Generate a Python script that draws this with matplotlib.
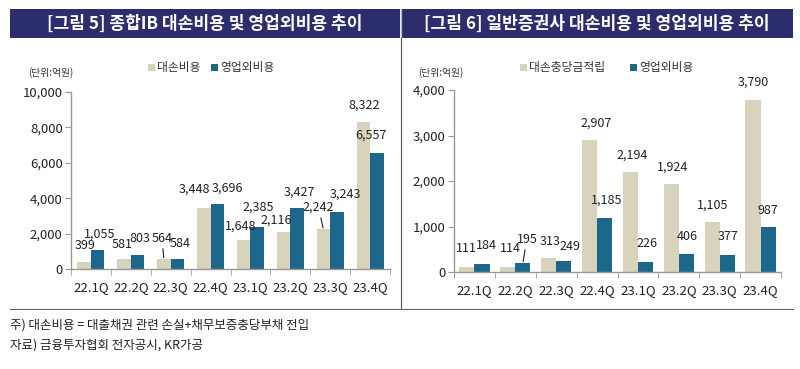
import matplotlib
matplotlib.use('Agg')
import matplotlib.pyplot as plt
from matplotlib.patches import Rectangle
from matplotlib.lines import Line2D
import numpy as np

plt.rcParams['font.family'] = ['Noto Sans CJK KR', 'DejaVu Sans']

quarters = ['22.1Q', '22.2Q', '22.3Q', '22.4Q', '23.1Q', '23.2Q', '23.3Q', '23.4Q']

# [그림 5] 종합IB
ib_loss = [399, 581, 564, 3448, 1648, 2116, 2242, 8322]
ib_nonop = [1055, 803, 584, 3696, 2385, 3427, 3243, 6557]

# [그림 6] 일반증권사
gen_provision = [111, 114, 313, 2907, 2194, 1924, 1105, 3790]
gen_nonop = [184, 195, 249, 1185, 226, 406, 377, 987]

BEIGE = '#d8d3bd'
BLUE = '#1d678b'
NAVY = '#2b2d6c'
AXIS = '#999999'

W, H = 800, 369
fig = plt.figure(figsize=(W / 100, H / 100), dpi=100)
fig.patch.set_facecolor('white')


def fx(x):
    return x / W


def fy(y):
    return 1 - y / H


# header bars
for x0, x1, title in [(10, 400, '[그림 5] 종합IB 대손비용 및 영업외비용 추이'),
                      (401, 793, '[그림 6] 일반증권사 대손비용 및 영업외비용 추이')]:
    fig.add_artist(Rectangle((fx(x0), fy(38)), fx(x1 - x0), 29 / H,
                             transform=fig.transFigure, color=NAVY, lw=0))
    fig.text(fx((x0 + x1) / 2), fy(23.5), title, color='white', fontsize=12.3,
             fontweight='bold', ha='center', va='center')
fig.add_artist(Line2D([fx(400.5)] * 2, [fy(38), fy(9)], transform=fig.transFigure,
                      color='#aab0e0', lw=1))

# frame lines
fig.add_artist(Line2D([fx(400.5)] * 2, [fy(38), fy(309)], transform=fig.transFigure,
                      color='#555555', lw=0.8))
fig.add_artist(Line2D([fx(10), fx(793)], [fy(309)] * 2, transform=fig.transFigure,
                      color='#666666', lw=0.8))


def make_panel(rect, s1, s2, ymax, ystep, width, offs1, offs2, leaders):
    ax = fig.add_axes(rect)
    x = np.arange(len(quarters))
    b1 = ax.bar(x - width / 2, s1, width, color=BEIGE)
    b2 = ax.bar(x + width / 2, s2, width, color=BLUE)
    ax.set_xlim(-0.5, len(quarters) - 0.5)
    ax.set_ylim(0, ymax)
    ax.set_yticks(np.arange(0, ymax + 1, ystep))
    ax.yaxis.set_major_formatter(matplotlib.ticker.FuncFormatter(lambda v, p: f'{v:,.0f}'))
    ax.set_xticks(x)
    ax.set_xticklabels(quarters)
    ax.set_xticks(np.arange(-0.5, len(quarters)), minor=True)
    ax.tick_params(axis='x', which='major', length=0, pad=9, labelsize=9.5, colors='#222222')
    ax.tick_params(axis='x', which='minor', length=4, direction='out', color=AXIS)
    ax.tick_params(axis='y', length=4, direction='out', color=AXIS, pad=2,
                   labelsize=9.5, labelcolor='#222222')
    for s in ['top', 'right']:
        ax.spines[s].set_visible(False)
    for s in ['left', 'bottom']:
        ax.spines[s].set_color(AXIS)
        ax.spines[s].set_linewidth(1)
    ax.set_facecolor('none')

    for bars, vals, offs in [(b1, s1, offs1), (b2, s2, offs2)]:
        for i, (bar, v) in enumerate(zip(bars, vals)):
            dx, dy = offs[i]
            cx = bar.get_x() + bar.get_width() / 2
            kw = {}
            if (bars is b1, i) in leaders:
                kw['arrowprops'] = dict(arrowstyle='-', color='#222222', lw=0.8,
                                        shrinkA=1, shrinkB=1)
            ax.annotate(f'{v:,}', xy=(cx, v), xytext=(dx, dy), textcoords='offset pixels',
                        ha='center', va='center', fontsize=9, color='#222222', **kw)
    return ax


# label offsets (pixels) from bar tops
ib_offs1 = [(1, 16), (-2, 14), (-2, 21), (-9, 19), (-3, 14), (-7, 11), (-5, 22), (1, 17)]
ib_offs2 = [(2, 16), (2, 16), (3, 15), (10, 15), (1, 20), (2, 16), (8, 17), (-6, 18)]
gen_offs1 = [(0, 18), (3, 18), (2, 16), (7, 17), (2, 17), (1, 17), (1, 17), (0, 17)]
gen_offs2 = [(4, 18), (4, 24), (6, 14), (2, 18), (1, 18), (1, 17), (1, 18), (0, 17)]

ax1 = make_panel([fx(71), 100 / H, 319 / W, 177 / H], ib_loss, ib_nonop, 10000, 2000, 0.34,
                 ib_offs1, ib_offs2, {(True, 2), (True, 6)})
ax2 = make_panel([fx(454), 97 / H, 327 / W, 182 / H], gen_provision, gen_nonop, 4000, 1000, 0.37,
                 gen_offs1, gen_offs2, {(False, 1)})

# units
fig.text(fx(28), fy(73), '(단위:억원)', fontsize=7, color='#333333', va='center')
fig.text(fx(418), fy(73), '(단위:억원)', fontsize=7, color='#333333', va='center')

# legends
for sx, label, color in [(148, '대손비용', BEIGE), (211, '영업외비용', BLUE),
                         (520, '대손충당금적립', BEIGE), (630, '영업외비용', BLUE)]:
    fig.add_artist(Rectangle((fx(sx), fy(71)), 7 / W, 7 / H, transform=fig.transFigure,
                             color=color, lw=0))
    fig.text(fx(sx + 9), fy(67.5), label, fontsize=8.5, color='#333333', va='center')

# notes
fig.text(fx(10), fy(325), '주) 대손비용 = 대출채권 관련 손실+채무보증충당부채 전입',
         fontsize=9, color='#222222', va='center')
fig.text(fx(10), fy(345), '자료) 금융투자협회 전자공시, KR가공',
         fontsize=9, color='#222222', va='center')

fig.savefig('out.png', dpi=100)
